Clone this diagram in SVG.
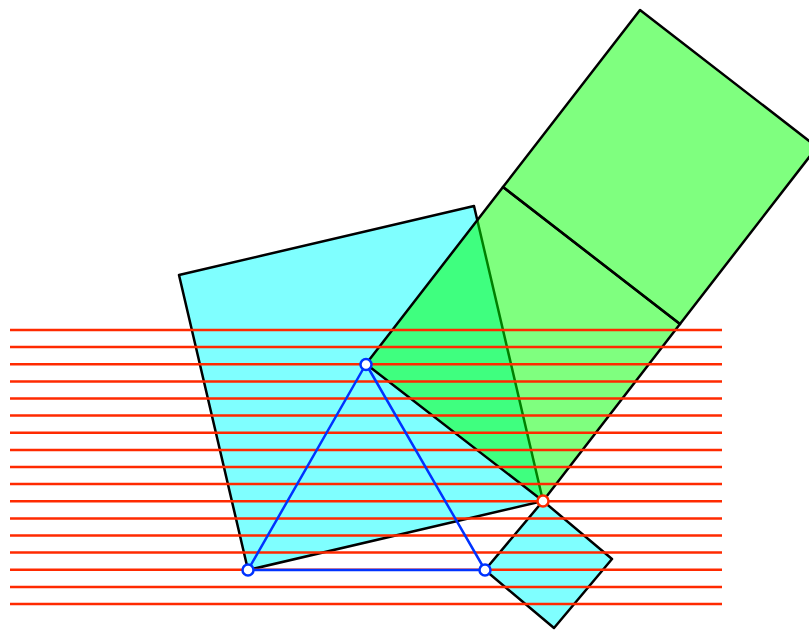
<svg xmlns="http://www.w3.org/2000/svg" width="809" height="631" viewBox="0 0 809 631">
<style>
.sq{stroke:#000;stroke-width:2.5;stroke-linejoin:round}
.cy{fill:#00ffff;fill-opacity:0.5}
.gr{fill:#00ff00;fill-opacity:0.5}
.rl{stroke:#ff2a00;stroke-width:2.5}
.tri{fill:none;stroke:#0033ff;stroke-width:2.5;stroke-linejoin:round}
.pt{fill:#fff;stroke-width:2.5}
</style>
<rect width="809" height="631" fill="#fff"/>
<g id="squares">
<polygon id="sqBD" class="sq cy" points="248,570 543,501 474,206 179,275"/>
<polygon id="sqCD" class="sq cy" points="485,570 543,501 612,559 554,628"/>
<polygon id="sqAD" class="sq gr" points="366,364 543,501 680,324 503,187"/>
<polygon id="sqAD2" class="sq gr" points="503,187 680,324 817,147 640,10"/>
</g>
<g id="lines">
<line class="rl" x1="10" y1="330" x2="722" y2="330"/>
<line class="rl" x1="10" y1="347.1" x2="722" y2="347.1"/>
<line class="rl" x1="10" y1="364.3" x2="722" y2="364.3"/>
<line class="rl" x1="10" y1="381.4" x2="722" y2="381.4"/>
<line class="rl" x1="10" y1="398.5" x2="722" y2="398.5"/>
<line class="rl" x1="10" y1="415.6" x2="722" y2="415.6"/>
<line class="rl" x1="10" y1="432.8" x2="722" y2="432.8"/>
<line class="rl" x1="10" y1="449.9" x2="722" y2="449.9"/>
<line class="rl" x1="10" y1="467" x2="722" y2="467"/>
<line class="rl" x1="10" y1="484.1" x2="722" y2="484.1"/>
<line class="rl" x1="10" y1="501.3" x2="722" y2="501.3"/>
<line class="rl" x1="10" y1="518.4" x2="722" y2="518.4"/>
<line class="rl" x1="10" y1="535.5" x2="722" y2="535.5"/>
<line class="rl" x1="10" y1="552.6" x2="722" y2="552.6"/>
<line class="rl" x1="10" y1="569.8" x2="722" y2="569.8"/>
<line class="rl" x1="10" y1="586.9" x2="722" y2="586.9"/>
<line class="rl" x1="10" y1="604" x2="722" y2="604"/>
</g>
<g id="triangle">
<polygon class="tri" points="366,364 248,570 485,570"/>
</g>
<g id="points">
<circle id="A" class="pt" cx="366" cy="364.5" r="5.5" stroke="#0033ff"/>
<circle id="B" class="pt" cx="248" cy="570" r="5.5" stroke="#0033ff"/>
<circle id="C" class="pt" cx="485" cy="570" r="5.5" stroke="#0033ff"/>
<circle id="D" class="pt" cx="543" cy="501" r="5.5" stroke="#ff2a00"/>
</g>
</svg>
